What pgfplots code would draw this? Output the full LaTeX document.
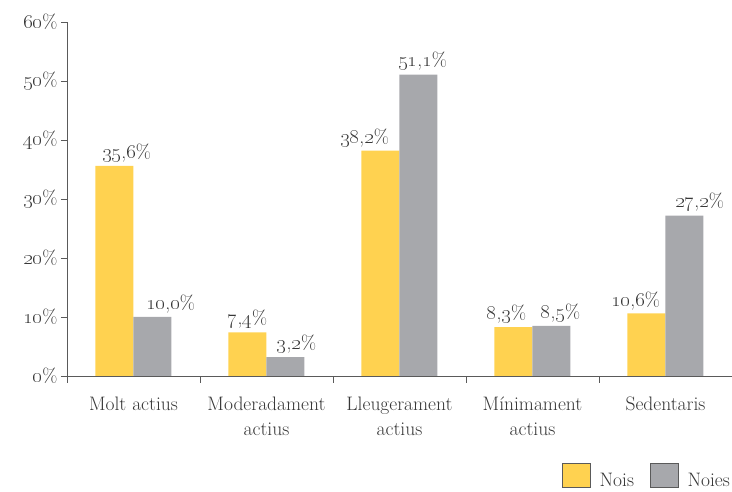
\documentclass[border=0pt]{standalone}
\usepackage{pgfplots}
\pgfplotsset{compat=1.18}
\definecolor{ylw}{RGB}{255,210,80}
\definecolor{gry}{RGB}{167,168,172}
\definecolor{txt}{RGB}{55,55,55}
\definecolor{axc}{RGB}{90,90,90}
\newcommand\os[1]{\oldstylenums{#1}}
\newcommand\sh[2]{\makebox[0pt]{\hspace*{#1}\hspace*{#1}#2}}
\newcommand\fs{\fontsize{19.5}{25}\selectfont}
\begin{document}
\begin{tikzpicture}
\useasboundingbox (-67pt,-116pt) rectangle (665pt,376pt);
\begin{axis}[
  at={(0pt,0pt)}, anchor=south west,
  width=665pt, height=354pt, scale only axis,
  ymin=0, ymax=60, xmin=-0.5, xmax=4.5,
  axis lines=left, axis line style={-, draw=axc, line width=0.8pt},
  ybar=0pt, bar width=38pt,
  ytick={0,10,...,60},
  yticklabels={\os{0}\%,\os{10}\%,\os{20}\%,\os{30}\%,\os{40}\%,\os{50}\%,\os{60}\%},
  xtick={0,...,4},
  xticklabels={Molt actius,{Moderadament\\actius},{Lleugerament\\actius},{M\'inimament\\actius},Sedentaris},
  minor xtick={-0.5,0.5,1.5,2.5,3.5,4.5},
  tick align=outside,
  major tick length=6pt, minor tick length=7pt,
  tick style={draw=axc, line width=0.8pt},
  major x tick style={draw=none},
  xticklabel style={align=center, font=\fs, text=txt, yshift=-11pt},
  yticklabel style={font=\fs, text=txt},
  nodes near coords, point meta=explicit symbolic,
  every node near coord/.append style={font=\fs, text=txt},
  legend style={draw=none, legend columns=2, at={(1,0)}, anchor=south east, yshift=-114pt,
    font=\fs, text=txt, inner sep=0pt, cells={inner xsep=0pt},
    /tikz/every odd column/.append style={column sep=7pt},
    /tikz/every even column/.append style={column sep=14pt}},
  legend image code/.code={\draw[#1, draw=axc, line width=0.5pt] (0pt,-7pt) rectangle (28pt,17pt);},
]
\addplot[fill=ylw, draw=none] coordinates {
  (0,35.6) [\sh{12pt}{\os{35},\os{6}\%}]
  (1,7.4) [\sh{0pt}{\os{7},\os{4}\%}]
  (2,38.2) [\sh{-16pt}{\os{38},\os{2}\%}]
  (3,8.3) [\sh{-7pt}{\os{8},\os{3}\%}]
  (4,10.6) [\sh{-11pt}{\os{10},\os{6}\%}]
};
\addplot[fill=gry, draw=none] coordinates {
  (0,10.0) [\sh{18pt}{\os{10},\os{0}\%}]
  (1,3.2) [\sh{11pt}{\os{3},\os{2}\%}]
  (2,51.1) [\sh{4pt}{\os{51},\os{1}\%}]
  (3,8.5) [\sh{9pt}{\os{8},\os{5}\%}]
  (4,27.2) [\sh{15pt}{\os{27},\os{2}\%}]
};
\legend{Nois,Noies}
\end{axis}
\end{tikzpicture}
\end{document}
